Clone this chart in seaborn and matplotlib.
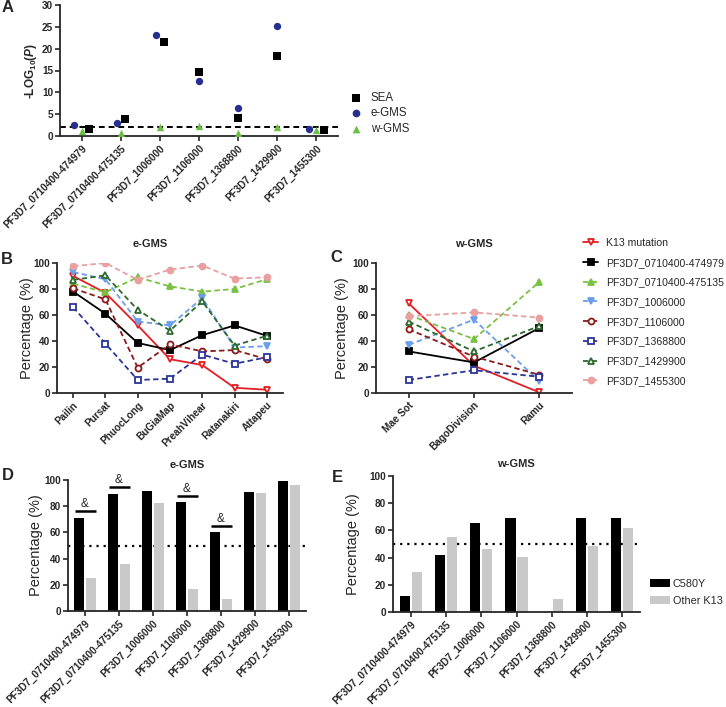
import numpy as np
import pandas as pd
import matplotlib
matplotlib.use("Agg")
import matplotlib.pyplot as plt
from matplotlib.lines import Line2D
import seaborn as sns

# =============================
# DATA
# =============================
genes = ["PF3D7_0710400-474979", "PF3D7_0710400-475135", "PF3D7_1006000",
         "PF3D7_1106000", "PF3D7_1368800", "PF3D7_1429900", "PF3D7_1455300"]

# panel A: -log10(P) per region
logp_sea = [1.6, 3.8, 21.6, 14.6, 4.1, 18.4, 1.3]
logp_egms = [2.5, 2.9, 23.1, 12.7, 6.5, 25.1, 1.6]
logp_wgms = [1.1, 0.7, 2.1, 2.4, 0.6, 2.1, 1.3]
p_cutoff = -np.log10(0.05 / 7)

# panel B: e-GMS sites
sites_e = ["Pailin", "Pursat", "PhuocLong", "BuGiaMap", "PreahVihear", "Ratanakiri", "Attapeu"]
e_k13 = [90, 77, 52, 26, 21.5, 4, 2.5]
e_474979 = [78, 61, 38.5, 33, 44.5, 52, 44]
e_475135 = [84, 77.5, 89, 82, 78, 80, 87.5]
e_1006000 = [93, 87.5, 55, 52, 73, 35, 36]
e_1106000 = [80.5, 72, 19.5, 37.5, 32, 33, 26]
e_1368800 = [66, 38, 10, 11, 29.5, 22.5, 27.5]
e_1429900 = [87, 90.5, 64, 48, 70.5, 36.5, 44]
e_1455300 = [97.5, 100, 87, 95, 98, 88, 89]

# panel C: w-GMS sites
sites_w = ["Mae Sot", "BagoDivision", "Ramu"]
w_k13 = [69, 21, 0.5]
w_474979 = [32, 23.5, 50]
w_475135 = [60, 41.5, 85.5]
w_1006000 = [37, 56.5, 9]
w_1106000 = [49, 28, 14]
w_1368800 = [10, 17.5, 12.5]
w_1429900 = [55, 32, 51.5]
w_1455300 = [59, 62, 58]

# panels D / E: C580Y vs other K13
c580y_e = [71, 89.5, 91.5, 83, 60, 91, 99]
other_e = [25.5, 35.5, 82.5, 16.5, 9.5, 90, 96]
signif_e = [True, True, False, True, True, False, False]
c580y_w = [11.5, 42, 65.5, 69, 0, 69, 69]
other_w = [29.5, 55.5, 46, 40.5, 9.5, 48.5, 62]

series = ["K13 mutation"] + genes
table_e = dict(zip(series, [e_k13, e_474979, e_475135, e_1006000,
                            e_1106000, e_1368800, e_1429900, e_1455300]))
table_w = dict(zip(series, [w_k13, w_474979, w_475135, w_1006000,
                            w_1106000, w_1368800, w_1429900, w_1455300]))

# =============================
# STYLE
# =============================
sns.set_style("ticks")
plt.rcParams["font.family"] = ["Liberation Sans", "DejaVu Sans"]
plt.rcParams["mathtext.fontset"] = "custom"
plt.rcParams["mathtext.rm"] = "Liberation Sans:bold"
plt.rcParams["mathtext.it"] = "Liberation Sans:italic:bold"
plt.rcParams["axes.linewidth"] = 1.3

line_styles = {
    "K13 mutation":          dict(color="#e31e24", marker="v", ls="-",  filled=False),
    "PF3D7_0710400-474979":  dict(color="#000000", marker="s", ls="-",  filled=True),
    "PF3D7_0710400-475135":  dict(color="#7ac143", marker="^", ls="--", filled=True),
    "PF3D7_1006000":         dict(color="#6d9eeb", marker="v", ls="--", filled=True),
    "PF3D7_1106000":         dict(color="#8b1a1a", marker="o", ls="--", filled=False),
    "PF3D7_1368800":         dict(color="#2b3595", marker="s", ls="--", filled=False),
    "PF3D7_1429900":         dict(color="#2d6a2d", marker="^", ls="--", filled=False),
    "PF3D7_1455300":         dict(color="#e8a0a0", marker="o", ls="--", filled=True),
}
bar_colors = {"C580Y": "#000000", "Other K13": "#c9c9c9"}

W, H = 726, 707
fig = plt.figure(figsize=(W / 100, H / 100), dpi=100)


def rect(x0, y0, x1, y1):
    return [x0 / W, 1 - y1 / H, (x1 - x0) / W, (y1 - y0) / H]


def style_axis(ax):
    sns.despine(ax=ax)
    ax.tick_params(direction="out", length=3.5, width=1.2, labelsize=7.2, pad=1.5)
    for lab in ax.get_xticklabels() + ax.get_yticklabels():
        lab.set_fontweight("bold")


def rot_labels(ax, labels):
    ax.set_xticks(range(len(labels)))
    ax.set_xticklabels(labels, rotation=45, ha="right", rotation_mode="anchor")


def line_kw(name):
    st = line_styles[name]
    return dict(color=st["color"], marker=st["marker"],
                linestyle=st["ls"] if st["ls"] == "-" else (0, (3, 1.8)),
                linewidth=1.3, markersize=4.3,
                markeredgecolor=st["color"], markeredgewidth=1.3,
                markerfacecolor=st["color"] if st["filled"] else "white")


# =============================
# PANEL A
# =============================
ax_a = fig.add_axes(rect(60, 5, 338, 136))
region_vals = {"SEA": logp_sea, "e-GMS": logp_egms, "w-GMS": logp_wgms}
region_style = {"SEA": ("s", "#000000"), "e-GMS": ("o", "#262f8f"), "w-GMS": ("^", "#6cbf45")}

# spread points that would overlap within one column
rows = []
order = ["e-GMS", "w-GMS", "SEA"]
for i, g in enumerate(genes):
    vals = {r: region_vals[r][i] for r in order}
    close = [r for r in order
             if any(abs(vals[r] - vals[o]) < 1.8 for o in order if o != r)]
    for r in order:
        off = 0.0
        if r in close:
            off = (close.index(r) - (len(close) - 1) / 2) * 0.2
        rows.append(dict(gene=g, region=r, x=i + off, y=vals[r]))
df_a = pd.DataFrame(rows)

for r in ["SEA", "e-GMS", "w-GMS"]:
    sub = df_a[df_a.region == r]
    mk, col = region_style[r]
    sns.scatterplot(data=sub, x="x", y="y", ax=ax_a, marker=mk, color=col,
                    s=28, linewidth=0, label=r, zorder=3)
ax_a.axhline(p_cutoff, color="black", ls=(0, (3, 2)), lw=1.4, zorder=2)
ax_a.set_xlim(-0.55, 6.55)
ax_a.set_ylim(0, 30)
ax_a.set_yticks(range(0, 31, 5))
rot_labels(ax_a, genes)
ax_a.set_xlabel("")
ax_a.set_ylabel("-LOG$_{10}$($\\mathit{P}$)", fontsize=8.5, fontweight="bold")
ax_a.yaxis.set_label_coords(-0.075, 0.5)
style_axis(ax_a)
ax_a.legend(loc="upper left", bbox_to_anchor=(350 / W, 1 - 92 / H),
            bbox_transform=fig.transFigure, frameon=False, fontsize=8.3,
            handlelength=1.0, handletextpad=0.8, labelspacing=0.3,
            markerscale=1.05, borderpad=0, borderaxespad=0)


# =============================
# PANELS B / C
# =============================
def draw_lines(ax, sites, table):
    for name in series:
        sns.lineplot(x=sites, y=table[name], ax=ax, sort=False, legend=False,
                     **line_kw(name))
    ax.set_ylim(0, 100)
    ax.set_xlim(-0.5, len(sites) - 0.5)
    ax.set_yticks(range(0, 101, 20))
    rot_labels(ax, sites)
    ax.set_ylabel("Percentage (%)", fontsize=10.5)
    ax.set_xlabel("")
    style_axis(ax)


ax_b = fig.add_axes(rect(57, 263, 283, 393))
draw_lines(ax_b, sites_e, table_e)
ax_b.yaxis.set_label_coords(-0.1, 0.5)

ax_c = fig.add_axes(rect(376, 263, 572, 393))
draw_lines(ax_c, sites_w, table_w)
ax_c.yaxis.set_label_coords(-0.14, 0.5)

handles = [Line2D([], [], **line_kw(name)) for name in series]
fig.legend(handles, series, loc="upper left", bbox_to_anchor=(583 / W, 1 - 238 / H),
           frameon=False, fontsize=7.6, handlelength=1.45, handletextpad=0.7,
           labelspacing=0.92, borderpad=0, borderaxespad=0)


# =============================
# PANELS D / E
# =============================
def draw_bars(ax, c580y, other):
    df = pd.DataFrame({
        "gene": genes * 2,
        "type": ["C580Y"] * len(genes) + ["Other K13"] * len(genes),
        "pct": c580y + other,
    })
    sns.barplot(data=df, x="gene", y="pct", hue="type", palette=bar_colors,
                width=0.68, gap=0.15, errorbar=None, linewidth=0,
                ax=ax, zorder=2)
    ax.axhline(50, color="black", ls=(0, (1, 2.2)), lw=1.6, zorder=1)
    ax.set_ylim(0, 100)
    ax.set_xlim(-0.5, len(genes) - 0.5)
    ax.set_yticks(range(0, 101, 20))
    rot_labels(ax, genes)
    ax.set_ylabel("Percentage (%)", fontsize=10.5)
    ax.set_xlabel("")
    style_axis(ax)


ax_d = fig.add_axes(rect(68, 480, 306, 611))
draw_bars(ax_d, c580y_e, other_e)
ax_d.get_legend().remove()
for i, flag in enumerate(signif_e):
    if flag:
        yb = c580y_e[i] + 5
        ax_d.plot([i - 0.3, i + 0.31], [yb, yb], color="black", lw=1.8,
                  solid_capstyle="butt", clip_on=False)
        ax_d.text(i, yb + 0.8, "&", ha="center", va="bottom", fontsize=8.5)
ax_d.yaxis.set_label_coords(-0.105, 0.5)

ax_e = fig.add_axes(rect(393, 476, 640, 612))
draw_bars(ax_e, c580y_w, other_w)
ax_e.legend(loc="upper left", bbox_to_anchor=(650 / W, 1 - 579 / H),
            bbox_transform=fig.transFigure, frameon=False, fontsize=7.8,
            handlelength=1.8, handleheight=0.75, handletextpad=0.3,
            labelspacing=0.6, borderpad=0, borderaxespad=0)
ax_e.yaxis.set_label_coords(-0.134, 0.5)

# =============================
# TITLES + PANEL LETTERS
# =============================
for x, y, t in [(150, 244, "e-GMS"), (474, 244, "w-GMS"),
                (187, 465, "e-GMS"), (516, 464, "w-GMS")]:
    fig.text(x / W, 1 - y / H, t, ha="center", va="center",
             fontsize=8, fontweight="bold")
for x, y, t in [(8, 8, "A"), (7, 259, "B"), (336, 258, "C"),
                (8, 476, "D"), (337, 478, "E")]:
    fig.text(x / W, 1 - y / H, t, ha="center", va="center",
             fontsize=12, fontweight="bold")

fig.savefig("out.png", dpi=100)
